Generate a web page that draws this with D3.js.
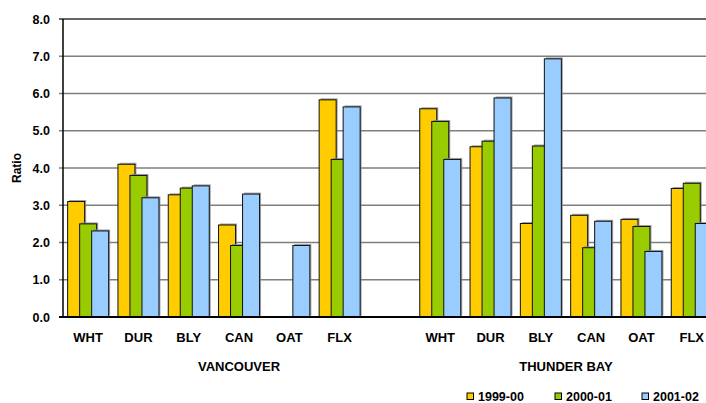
<!DOCTYPE html>
<html><head><meta charset="utf-8">
<script src="https://cdn.jsdelivr.net/npm/d3@7"></script>
<style>body{margin:0;background:#fff;overflow:hidden}svg{display:block;font-family:"Liberation Sans",Arial,sans-serif;font-weight:bold}</style>
</head><body>
<script>
const categories = ["WHT","DUR","BLY","CAN","OAT","FLX","","WHT","DUR","BLY","CAN","OAT","FLX"];
const groups = [{name:"VANCOUVER", from:0, to:6},{name:"THUNDER BAY", from:7, to:12}];
const seriesNames = ["1999-00","2000-01","2001-02"];
const s1999 = [3.1,4.1,3.28,2.47,null,5.83,null,5.59,4.57,2.51,2.73,2.62,3.45];
const s2000 = [2.5,3.8,3.46,1.92,null,4.23,null,5.25,4.72,4.59,1.86,2.43,3.59];
const s2001 = [2.31,3.2,3.52,3.3,1.92,5.64,null,4.23,5.88,6.93,2.57,1.76,2.51];
const yTicks = [0,1,2,3,4,5,6,7,8];
const colors = ["#FFCC00","#99CC00","#99CCFF"];

const W=706,H=403;
const svg=d3.select("body").append("svg").attr("width",W).attr("height",H);
const mLeft=63, mTop=19, mBottom=317, bandW=50.3;
const x=d3.scaleBand().domain(d3.range(categories.length)).range([mLeft,mLeft+bandW*categories.length]).padding(0);
const y=d3.scaleLinear().domain([0,8]).range([mBottom,mTop]);
const barW=17, step=12;
const inner=d3.scalePoint().domain(d3.range(3)).range([0,2*step]);
const groupW=2*step+barW;

// gridlines
svg.append("g").selectAll("line").data(yTicks.filter(t=>t>0)).join("line")
  .attr("x1",mLeft-4).attr("x2",W+20).attr("y1",d=>y(d)).attr("y2",d=>y(d))
  .attr("stroke",d=>d===8?"#333":"#7f7f7f").attr("stroke-width",1.5);
// ticks
svg.append("g").selectAll("text").data(yTicks).join("text")
  .attr("x",50).attr("y",d=>y(d)+4.5).attr("text-anchor","end").attr("font-size",12.5).text(d=>d.toFixed(1));

const all=[s1999,s2000,s2001];
all.forEach((s,si)=>{
  const g=svg.append("g");
  const data=s.map((v,i)=>({v,i})).filter(d=>d.v!=null);
  g.selectAll("rect.sh").data(data).join("rect").attr("class","sh")
    .attr("x",d=>x(d.i)+(bandW-groupW)/2+inner(si)+1.5).attr("y",d=>y(d.v)-1.5)
    .attr("width",barW).attr("height",d=>mBottom-y(d.v)).attr("fill","#8a8a8a").attr("opacity",0.8);
  g.selectAll("rect.b").data(data).join("rect").attr("class","b")
    .attr("x",d=>x(d.i)+(bandW-groupW)/2+inner(si)).attr("y",d=>y(d.v))
    .attr("width",barW).attr("height",d=>mBottom-y(d.v))
    .attr("fill",colors[si]).attr("stroke","#111").attr("stroke-width",1);
});

// axes
svg.append("line").attr("x1",mLeft).attr("x2",mLeft).attr("y1",mTop).attr("y2",mBottom).attr("stroke","#000").attr("stroke-width",1.5);
svg.append("line").attr("x1",mLeft-4).attr("x2",W+20).attr("y1",mBottom).attr("y2",mBottom).attr("stroke","#000").attr("stroke-width",1.8);

// category labels
svg.append("g").selectAll("text").data(categories.map((c,i)=>({c,i}))).join("text")
  .attr("x",d=>x(d.i)+bandW/2).attr("y",342).attr("text-anchor","middle").attr("font-size",13).text(d=>d.c);
// group labels
svg.append("g").selectAll("text").data(groups).join("text")
  .attr("x",d=>(x(d.from)+x(d.to)+bandW)/2).attr("y",370.5).attr("text-anchor","middle").attr("font-size",13).text(d=>d.name);

// y title
svg.append("text").attr("transform","translate(21,168) rotate(-90)").attr("text-anchor","middle").attr("font-size",12).text("Ratio");

// legend
const legX=[467,555,642];
const lg=svg.append("g").selectAll("g").data(seriesNames).join("g").attr("transform",(d,i)=>`translate(${legX[i]},393)`);
lg.append("rect").attr("width",6.5).attr("height",6.5).attr("fill",(d,i)=>colors[i]).attr("stroke","#000").attr("stroke-width",1);
lg.append("text").attr("x",11).attr("y",8.2).attr("font-size",12.5).text(d=>d);
</script>
</body></html>
